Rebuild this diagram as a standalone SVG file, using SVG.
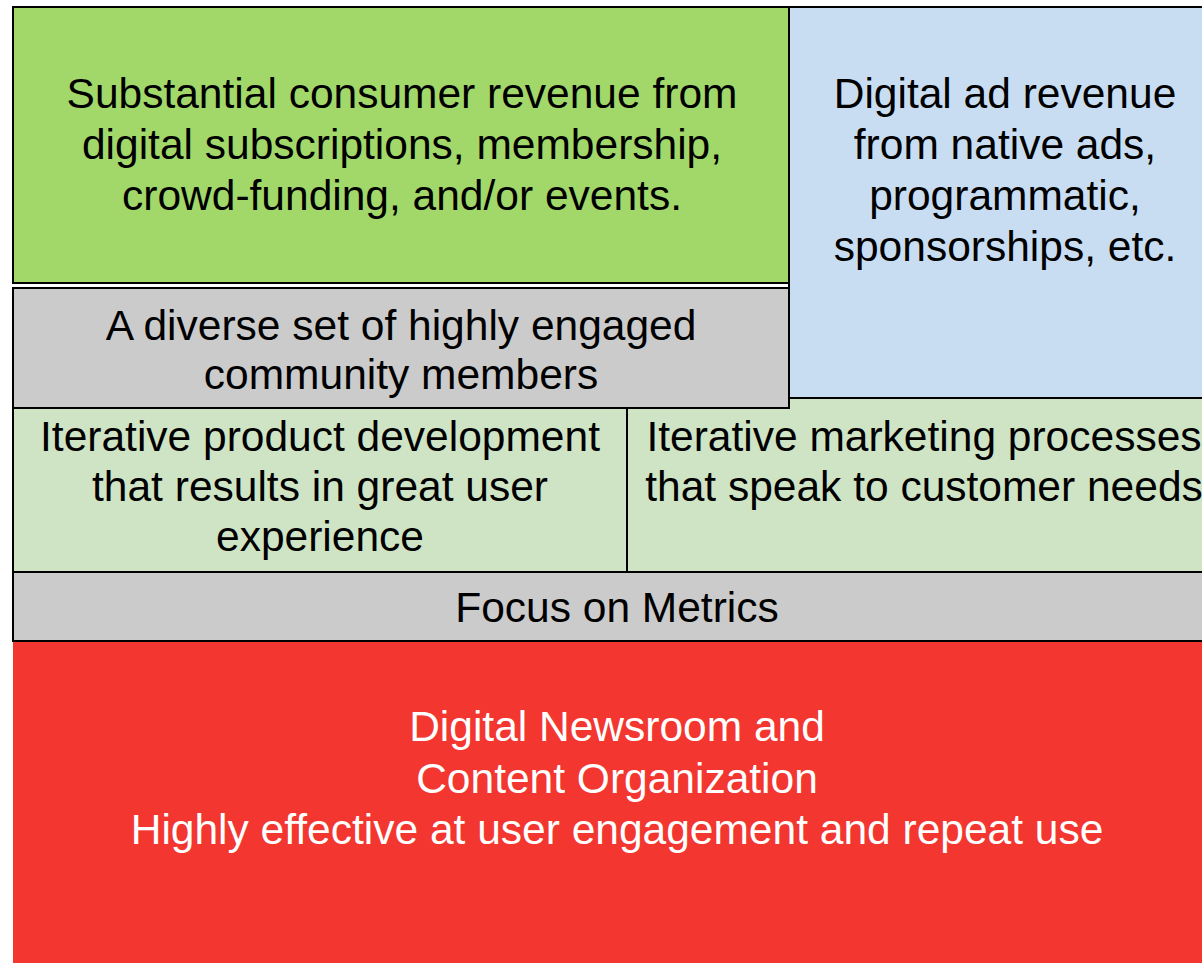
<svg xmlns="http://www.w3.org/2000/svg" width="1202" height="963" viewBox="0 0 1202 963">
<style>
text{font-family:"Liberation Sans",Arial,sans-serif;font-size:42.5px;text-anchor:middle;fill:#000}
.box{stroke:#000;stroke-width:2}
.w{fill:#fff}
</style>
<rect width="1202" height="963" fill="#fff"/>
<g id="ad-revenue">
<rect class="box" x="789" y="7" width="440" height="391" fill="#c8ddf1"/>
<text x="1005" y="108">Digital ad revenue</text>
<text x="1005" y="159">from native ads,</text>
<text x="1005" y="210">programmatic,</text>
<text x="1005" y="261">sponsorships, etc.</text>
</g>
<g id="marketing">
<rect class="box" x="627" y="398" width="602" height="174" fill="#cfe4c4"/>
<text x="924" y="451">Iterative marketing processes</text>
<text x="924" y="501">that speak to customer needs</text>
</g>
<g id="consumer-revenue">
<rect class="box" x="13" y="7" width="776" height="276" fill="#a2d869"/>
<text x="402" y="108">Substantial consumer revenue from</text>
<text x="402" y="159">digital subscriptions, membership,</text>
<text x="402" y="210">crowd-funding, and/or events.</text>
</g>
<g id="community">
<rect class="box" x="13" y="288" width="776" height="120" fill="#cbcbcb"/>
<text x="401" y="340">A diverse set of highly engaged</text>
<text x="401" y="389">community members</text>
</g>
<g id="product">
<rect class="box" x="13" y="408" width="614" height="164" fill="#cfe4c4"/>
<text x="320" y="451">Iterative product development</text>
<text x="320" y="501">that results in great user</text>
<text x="320" y="551">experience</text>
</g>
<g id="metrics">
<rect class="box" x="13" y="572" width="1216" height="69" fill="#cbcbcb"/>
<text x="617" y="622">Focus on Metrics</text>
</g>
<g id="newsroom">
<rect x="13" y="642" width="1216" height="330" fill="#f3362f"/>
<text class="w" x="617" y="741">Digital Newsroom and</text>
<text class="w" x="617" y="793">Content Organization</text>
<text class="w" x="617" y="844">Highly effective at user engagement and repeat use</text>
</g>
<g id="connectors"/>
</svg>
